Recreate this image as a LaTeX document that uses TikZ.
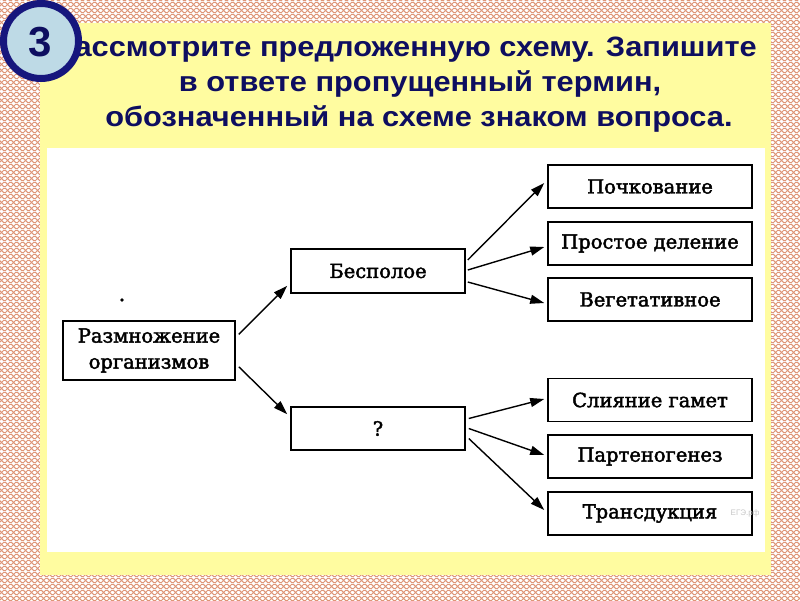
\documentclass[tikz,border=0pt]{standalone}
\usepackage{fontspec}
\setmainfont[FakeBold=2.2]{DejaVu Serif}
\newfontfamily\titlefont{Liberation Sans}
\usetikzlibrary{arrows.meta,calc,patterns.meta}
\definecolor{navy}{RGB}{14,14,96}
\definecolor{ringblue}{RGB}{22,22,125}
\definecolor{ringfill}{RGB}{190,218,230}
\definecolor{paleyellow}{RGB}{255,252,160}
\definecolor{salmon}{RGB}{222,150,120}
\tikzdeclarepattern{
  name=bgx,
  type=colored,
  bounding box={(0pt,0pt) and (6pt,6pt)},
  tile size={(6pt,6pt)},
  code={
    \draw[line width=1.1pt, salmon] (0pt,0pt) -- (6pt,6pt) (0pt,6pt) -- (6pt,0pt);
  }
}
\tikzset{
  dbox/.style={draw=black, line width=1.5pt, fill=white, inner sep=0pt,
    minimum width=204pt, minimum height=43pt,
    font=\fontsize{19.5}{24}\selectfont},
  arr/.style={-{Triangle[length=14pt,width=9pt]}, line width=1.4pt, black},
  ttl/.style={font=\titlefont\bfseries\fontsize{28}{32}\selectfont, text=navy, inner sep=0pt}
}
\newcommand{\wide}[1]{\scalebox{1.1}[1]{#1}}
\begin{document}
\begin{tikzpicture}[x=1pt,y=-1pt]
\useasboundingbox (0,0) rectangle (800,600);
\fill[white] (0,0) rectangle (800,600);
\fill[pattern=bgx] (0,0) rectangle (800,600);
\fill[paleyellow] (40,23) rectangle (771,575);
\fill[white] (47,148) rectangle (765,552);
% title
\node[ttl, anchor=base east] (t1) at (757,56) {\wide{Рассмотрите предложенную схему. Запишите}};
\node[ttl, anchor=base] (t2) at (420,91) {\wide{в ответе пропущенный термин,}};
\node[ttl, anchor=base] (t3) at (419,126) {\wide{обозначенный на схеме знаком вопроса.}};
% number badge
\draw[ringblue, line width=7pt, fill=ringfill] (41,41) circle[radius=37.5];
\node[font=\titlefont\bfseries\fontsize{42}{42}\selectfont, text=navy] (num) at (40,42) {3};
% diagram
\node[dbox, minimum width=172pt, minimum height=59pt, align=center,
  font=\fontsize{19.5}{26}\selectfont] (razm) at (149,350.5) {Размножение\\организмов};
\node[dbox, minimum width=174pt, minimum height=44pt] (besp) at (378,271) {Бесполое};
\node[dbox, minimum width=174pt, minimum height=43pt] (q) at (378,428.5) {?};
\node[dbox] (poch) at (650,186.5) {Почкование};
\node[dbox] (prost) at (650,243.5) {Простое деление};
\node[dbox] (veg) at (650,299.5) {Вегетативное};
\node[dbox] (sliy) at (650,400) {Слияние гамет};
\node[dbox] (part) at (650,456.5) {Партеногенез};
\node[dbox] (trans) at (650,513.5) {Трансдукция};
\draw[arr] ($(razm.north east)+(3,14)$) -- ($(besp.south west)+(-3,-8)$);
\draw[arr] ($(razm.south east)+(3,-14)$) -- ($(q.north west)+(-3,8)$);
\draw[arr] ($(besp.east)+(2,-11)$) -- ($(poch.west)+(-3,-3.5)$);
\draw[arr] ($(besp.east)+(2,-1)$) -- ($(prost.west)+(-3,3.5)$);
\draw[arr] ($(besp.east)+(2,11)$) -- ($(veg.west)+(-3,3.5)$);
\draw[arr] ($(q.east)+(3,-10)$) -- ($(sliy.west)+(-3,-1)$);
\draw[arr] ($(q.east)+(3,0)$) -- ($(part.west)+(-3,-1.5)$);
\draw[arr] ($(q.east)+(3,10)$) -- ($(trans.west)+(-3,-3.5)$);
\fill[black] (122,300) circle[radius=1.8];
\node[font=\titlefont\fontsize{8}{8}\selectfont, text=black!22, inner sep=0pt] (wm) at (745,513) {ЕГЭ.рф};
\end{tikzpicture}
\end{document}
